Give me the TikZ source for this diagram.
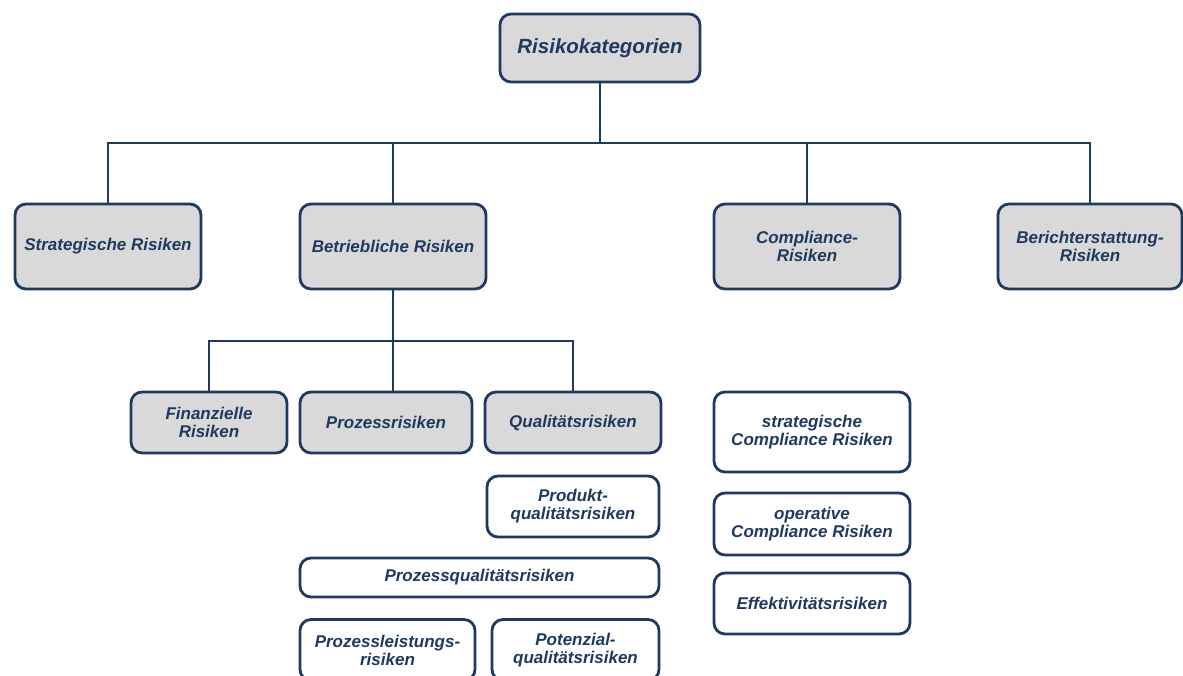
\documentclass[tikz,border=0pt]{standalone}
\usepackage{fontspec}
\setmainfont{Liberation Sans}
\definecolor{navy}{HTML}{1F3A60}
\definecolor{boxgray}{HTML}{D9D9D9}
\begin{document}
\begin{tikzpicture}[x=1pt,y=-1pt,
  box/.style={draw=navy, line width=2.8pt, rounded corners=11pt, align=center,
    inner sep=0pt, text=navy, font=\bfseries\itshape\fontsize{17}{18}\selectfont},
  grey/.style={box, fill=boxgray},
  plain/.style={box, fill=white},
  link/.style={draw=navy, line width=2.6pt}]
\useasboundingbox (0,0) rectangle (1183,675);
\clip (0,0) rectangle (1183,675);

% top level
\node[grey, minimum width=200pt, minimum height=68pt,
  font=\bfseries\itshape\fontsize{20.5}{24}\selectfont] (top) at (600,48) {Risikokategorien};

% second level
\node[grey, minimum width=186pt, minimum height=85pt] (strat) at (108,246.5) {Strategische Risiken};
\node[grey, minimum width=186pt, minimum height=85pt] (betr)  at (393,246.5) {Betriebliche Risiken};
\node[grey, minimum width=186pt, minimum height=85pt] (comp)  at (807,246.5) {Compliance-\\Risiken};
\node[grey, minimum width=184pt, minimum height=85pt] (ber)   at (1090,246.5) {Berichterstattung-\\Risiken};

% operational sub-categories
\node[grey, minimum width=156pt, minimum height=61pt] (fin)  at (209,422.5) {Finanzielle\\Risiken};
\node[grey, minimum width=172pt, minimum height=61pt] (proz) at (386,422.5) {Prozessrisiken};
\node[grey, minimum width=176pt, minimum height=61pt] (qual) at (573,422.5) {Qualitätsrisiken};

% quality risk types
\node[plain, minimum width=172pt, minimum height=61pt] (prod) at (573,506.5) {Produkt-\\qualitätsrisiken};
\node[plain, minimum width=359pt, minimum height=39pt] (pq)   at (479.5,577.5) {Prozessqualitätsrisiken};
\node[plain, minimum width=175pt, minimum height=61pt] (pl)   at (387.5,650) {Prozessleistungs-\\risiken};
\node[plain, minimum width=167pt, minimum height=61pt] (pot)  at (575.5,650) {Potenzial-\\qualitätsrisiken};

% compliance risk types
\node[plain, minimum width=196pt, minimum height=80pt] (scr) at (812,432) {strategische\\Compliance Risiken};
\node[plain, minimum width=196pt, minimum height=62pt] (ocr) at (812,524) {operative\\Compliance Risiken};
\node[plain, minimum width=196pt, minimum height=61pt] (eff) at (812,603.5) {Effektivitätsrisiken};

% connectors
\coordinate (j1) at (600,143);
\coordinate (j2) at (393,341);
\draw[link] (top.south) -- (j1);
\draw[link] (j1) -| (strat.north);
\draw[link] (j1) -| (betr.north);
\draw[link] (j1) -| (comp.north);
\draw[link] (j1) -| (ber.north);
\draw[link] (betr.south) -- (j2);
\draw[link] (j2) -| (fin.north);
\draw[link] (j2) -- (j2 |- proz.north);
\draw[link] (j2) -| (qual.north);
\end{tikzpicture}
\end{document}
